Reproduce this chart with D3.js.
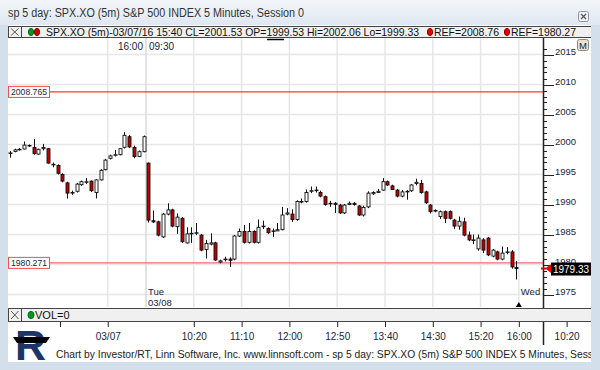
<!DOCTYPE html>
<html>
<head>
<meta charset="utf-8">
<script src="https://cdn.jsdelivr.net/npm/d3@7"></script>
<style>
  body { margin: 0; background: #fff; }
  svg text { font-family: "Liberation Sans", Arial, sans-serif; }
</style>
</head>
<body>
<div class="chart"></div>
<script>
// bar index: 0 = 03/08 09:30, negatives = 03/07 afternoon
const barIdx = d3.range(-29, 78);
const opens = [1998.5,1998.85,1999.1,1999.25,1999.8,1999.5,1998.4,1999.3,1999.3,1996.7,1996.5,1995.0,1993.6,1991.9,1992.2,1993.3,1993.7,1993.9,1992.0,1994.1,1995.8,1997.7,1998.2,1998.3,1999.53,2001.3,1999.5,1998.0,1998.8,
  1996.9,1987.3,1987.1,1984.6,1988.4,1989.1,1986.3,1987.7,1983.6,1985.1,1985.3,1984.9,1982.5,1983.4,1983.6,1980.4,1980.8,1980.9,1980.9,1984.75,1985.5,1983.7,1985.5,1983.7,1986.3,1986.0,1985.5,1985.6,1985.8,1988.4,1988.4,1987.5,1990.4,1990.5,1992.2,1992.3,1992.0,1991.3,1990.1,1990.2,1989.9,1988.6,1990.0,1990.2,1989.75,1988.25,1989.6,1991.8,1992.0,1992.4,1993.8,1993.1,1992.4,1991.4,1992.1,1992.3,1993.5,1993.5,1992.1,1989.9,1988.9,1988.0,1988.8,1988.8,1987.4,1986.4,1987.1,1984.9,1984.1,1982.6,1984.1,1984.4,1981.4,1982.1,1980.9,1982.0,1982.1,1979.5];
const highs = [1998.9,1999.3,1999.4,2000.5,2000.0,2000.9,1999.3,2000.1,1999.4,1997.0,1996.7,1995.2,1993.8,1992.3,1993.6,1994.0,1994.4,1994.0,1994.2,1995.9,1997.6,1998.3,1999.1,1999.4,2002.06,2001.6,1999.8,1999.0,2001.5,
  1997.0,1989.0,1987.3,1988.6,1990.2,1989.3,1988.5,1987.9,1986.2,1986.2,1986.9,1985.1,1984.1,1985.2,1983.8,1980.8,1981.3,1981.2,1984.9,1986.0,1986.6,1986.9,1985.7,1987.5,1987.3,1986.2,1986.0,1986.9,1989.6,1989.4,1989.2,1990.7,1991.0,1992.5,1993.0,1993.0,1992.3,1991.5,1990.6,1990.4,1990.1,1990.1,1990.5,1990.4,1989.9,1989.8,1992.2,1992.2,1992.6,1994.4,1994.0,1993.3,1992.6,1992.4,1992.4,1993.4,1994.3,1994.1,1992.3,1990.1,1989.2,1989.0,1989.0,1989.0,1987.6,1988.0,1987.8,1985.5,1985.0,1985.0,1984.4,1984.6,1982.6,1982.3,1983.0,1982.9,1982.4,1980.6];
const lows = [1997.8,1998.7,1999.0,1999.2,1999.6,1998.3,1998.3,1999.0,1996.8,1996.2,1995.0,1993.7,1991.0,1991.6,1992.0,1993.1,1993.4,1992.1,1991.0,1994.0,1995.7,1997.5,1998.0,1998.2,1999.33,1999.4,1997.7,1997.9,1998.7,
  1987.0,1986.9,1984.7,1984.4,1988.2,1986.2,1985.1,1983.6,1983.5,1983.6,1984.9,1982.2,1981.0,1983.2,1980.6,1980.2,1980.5,1979.6,1980.7,1984.6,1983.5,1983.5,1983.5,1983.5,1985.9,1985.1,1984.6,1985.6,1985.7,1988.2,1987.1,1987.3,1990.2,1990.3,1991.9,1992.0,1991.2,1989.8,1989.6,1988.6,1988.4,1988.4,1989.9,1989.8,1988.1,1988.0,1989.4,1991.6,1991.9,1992.3,1993.1,1992.4,1991.2,1991.2,1990.8,1992.1,1993.2,1991.8,1990.1,1988.5,1988.7,1987.6,1986.9,1987.5,1985.9,1985.8,1984.7,1983.9,1983.4,1982.3,1981.9,1981.4,1981.2,1980.7,1980.7,1981.7,1979.3,1977.5];
const closes = [1998.6,1999.1,1999.2,1999.9,1999.85,1998.5,1999.2,1999.5,1996.9,1996.6,1995.2,1993.9,1991.9,1992.0,1993.4,1993.8,1993.8,1992.3,1994.1,1995.7,1997.4,1998.1,1998.3,1999.3,2001.53,1999.6,1998.0,1998.8,2001.3,
  1987.4,1987.1,1984.9,1988.4,1989.1,1986.4,1987.9,1983.8,1985.1,1985.2,1985.3,1982.4,1983.5,1983.6,1980.75,1980.6,1980.9,1980.7,1984.75,1985.5,1983.7,1985.5,1983.7,1986.2,1986.4,1985.3,1985.6,1985.8,1988.25,1988.6,1987.5,1990.5,1990.5,1992.0,1992.3,1992.4,1991.4,1990.0,1990.2,1990.0,1988.6,1989.9,1990.2,1990.0,1988.25,1989.5,1991.9,1992.0,1992.2,1993.8,1993.25,1992.5,1991.4,1992.1,1992.2,1993.25,1993.7,1992.0,1990.3,1988.8,1989.0,1988.8,1987.7,1987.7,1986.4,1987.2,1984.9,1984.1,1984.0,1984.4,1982.4,1981.6,1982.4,1980.9,1981.9,1982.1,1979.6,1979.33];

// time axis ticks (bar index -> label)
const timeTicks = [-18, -8, 10, 20, 30, 40, 50, 60, 70, 78, 88];
const timeLabels = ['', '03/07', '10:20', '11:10', '12:00', '12:50', '13:40', '14:30', '15:20', '16:00', '10:20'];
const gridTicks = [-8, 0, 10, 20, 30, 40, 50, 60, 70, 78];

const refValues = [2008.765, 1980.271];
const refLabels = ['2008.765', '1980.271'];
const priceTicks = d3.range(1975, 2016, 5);
const lastPrice = 1979.33;

const width = 600, height = 370;
const plotL = 8, plotR = 543, plotT = 38, plotB = 307;
const navy = '#1a2440';

const xScale = d3.scaleLinear().domain([0, 78]).range([146, 146 + 78 * 4.78]);
const yScale = d3.scaleLinear().domain([1975, 2015]).range([294.5, 54.5]);

const svg = d3.select('.chart').append('svg')
    .attr('width', width).attr('height', height)
    .style('display', 'block');

// window frame
svg.append('rect').attr('width', width).attr('height', height).attr('fill', '#d4dfec');
const defs = svg.append('defs');
const grad = defs.append('linearGradient').attr('id', 'tbar')
    .attr('x1', 0).attr('y1', 0).attr('x2', 0).attr('y2', 1);
grad.append('stop').attr('offset', '0%').attr('stop-color', '#f3f6fa');
grad.append('stop').attr('offset', '100%').attr('stop-color', '#dfe7f1');
defs.append('clipPath').attr('id', 'foot').append('rect').attr('x', 0).attr('y', 340).attr('width', 591).attr('height', 25);

svg.append('rect').attr('x', 0).attr('y', 0).attr('width', width).attr('height', 25).attr('fill', 'url(#tbar)');
svg.append('text').attr('x', 8).attr('y', 17).attr('font-size', 12).attr('fill', '#333')
    .attr('textLength', 296).attr('lengthAdjust', 'spacingAndGlyphs')
    .text('sp 5 day: SPX.XO (5m) S&P 500 INDEX 5 Minutes, Session 0');
// close button
svg.append('rect').attr('x', 578.5).attr('y', 11.5).attr('width', 10).attr('height', 10).attr('rx', 2)
    .attr('fill', '#eef1f5').attr('stroke', '#8a96a6');
svg.append('path').attr('d', 'M581,14 L586,19 M586,14 L581,19').attr('stroke', '#555').attr('stroke-width', 1.2);

// white chart body
svg.append('rect').attr('x', plotL).attr('y', 25).attr('width', 584).attr('height', 337).attr('fill', '#fff');

// legend bar
const leg = svg.append('g');
leg.append('rect').attr('x', 8.5).attr('y', 26.5).attr('width', 583).attr('height', 11)
    .attr('fill', '#f0f0f0').attr('stroke', '#444');
leg.append('line').attr('x1', 21.5).attr('x2', 21.5).attr('y1', 26.5).attr('y2', 37.5).attr('stroke', '#444');
leg.append('path').attr('d', 'M11,28.5 L18.5,35.5 M18.5,28.5 L11,35.5').attr('stroke', '#555');
leg.append('ellipse').attr('cx', 31).attr('cy', 32).attr('rx', 2.6).attr('ry', 3.6).attr('fill', '#0a9a0a').attr('stroke', '#063');
leg.append('ellipse').attr('cx', 37).attr('cy', 32).attr('rx', 2.6).attr('ry', 3.6).attr('fill', '#d00').attr('stroke', '#700');
leg.append('text').attr('x', 46).attr('y', 36).attr('font-size', 11).attr('fill', '#111')
    .attr('textLength', 373).attr('lengthAdjust', 'spacingAndGlyphs')
    .text('SPX.XO (5m)-03/07/16 15:40 CL=2001.53 OP=1999.53 Hi=2002.06 Lo=1999.33');
[[430, 'REF=2008.76'], [507, 'REF=1980.27']].forEach(([x, t]) => {
    leg.append('ellipse').attr('cx', x).attr('cy', 32).attr('rx', 2.6).attr('ry', 3.6).attr('fill', '#e00').attr('stroke', '#800');
    leg.append('text').attr('x', x + 4).attr('y', 36).attr('font-size', 11).attr('fill', '#111')
        .attr('textLength', 65).attr('lengthAdjust', 'spacingAndGlyphs').text(t);
});
svg.append('line').attr('x1', 267).attr('x2', 284).attr('y1', 39.5).attr('y2', 39.5).attr('stroke', '#000').attr('stroke-width', 1.5);

// grid
const grid = svg.append('g');
grid.selectAll('line.h').data(priceTicks).join('line')
    .attr('x1', plotL).attr('x2', plotR)
    .attr('y1', (d) => yScale(d)).attr('y2', (d) => yScale(d))
    .attr('stroke', '#e6e6e6').attr('stroke-width', 1.5);
grid.selectAll('line.v').data(gridTicks).join('line')
    .attr('x1', (d) => xScale(d)).attr('x2', (d) => xScale(d))
    .attr('y1', plotT).attr('y2', plotB)
    .attr('stroke', (d) => (d === 0 ? '#d8d8d8' : '#e6e6e6')).attr('stroke-width', 1.5);

// session labels
svg.append('text').attr('x', xScale(0) - 3).attr('y', 50).attr('text-anchor', 'end')
    .attr('font-size', 10).attr('fill', navy).text('16:00');
svg.append('text').attr('x', xScale(0) + 3).attr('y', 50)
    .attr('font-size', 10).attr('fill', navy).text('09:30');
svg.append('text').attr('x', xScale(0) + 2).attr('y', 294.5).attr('font-size', 9.5).attr('fill', navy).text('Tue');
svg.append('text').attr('x', xScale(0) + 2).attr('y', 305.5).attr('font-size', 9.5).attr('fill', navy).text('03/08');
svg.append('text').attr('x', xScale(78) + 2).attr('y', 294.5).attr('font-size', 9.5).attr('fill', navy).text('Wed');
svg.append('path').attr('d', `M${xScale(78) - 3},307 L${xScale(78)},302 L${xScale(78) + 3},307 Z`).attr('fill', '#000');

// reference lines
refValues.forEach((v, k) => {
    svg.append('line').attr('x1', 49).attr('x2', plotR)
        .attr('y1', yScale(v)).attr('y2', yScale(v))
        .attr('stroke', k === 0 ? '#f00' : '#f26a6a').attr('stroke-width', k === 0 ? 1 : 1.4);
    svg.append('rect').attr('x', 8.5).attr('y', yScale(v) - 5.5).attr('width', 41).attr('height', 11)
        .attr('fill', '#fff').attr('stroke', '#f05050');
    svg.append('text').attr('x', 11).attr('y', yScale(v) + 3.5).attr('font-size', 9.5).attr('fill', navy)
        .attr('textLength', 36).attr('lengthAdjust', 'spacingAndGlyphs')
        .text(refLabels[k]);
});

// candles
const bars = barIdx.map((i, k) => ({ i, o: opens[k], h: highs[k], l: lows[k], c: closes[k] }));
const cx = (d) => xScale(d.i + 0.5);
const candles = svg.append('g').selectAll('g').data(bars).join('g');
candles.append('line')
    .attr('x1', (d) => Math.round(cx(d)) + 0.5).attr('x2', (d) => Math.round(cx(d)) + 0.5)
    .attr('y1', (d) => yScale(d.h)).attr('y2', (d) => yScale(d.l))
    .attr('stroke', '#111');
candles.append('rect')
    .attr('x', (d) => Math.round(cx(d)) - 1)
    .attr('y', (d) => yScale(Math.max(d.o, d.c)))
    .attr('width', 3)
    .attr('height', (d) => Math.max(0.6, Math.abs(yScale(d.o) - yScale(d.c))))
    .attr('fill', (d) => (d.c < d.o ? '#c00000' : '#fff'))
    .attr('stroke', '#111').attr('stroke-width', 0.9);

// right price axis
const yAxis = svg.append('g').attr('transform', `translate(${plotR},0)`);
yAxis.append('line').attr('x1', 0.5).attr('x2', 0.5).attr('y1', 38).attr('y2', 345).attr('stroke', '#222').attr('stroke-width', 1.5);
yAxis.selectAll('line.minor').data(d3.range(1975, 2017)).join('line')
    .attr('x1', 0).attr('x2', (d) => (d % 5 === 0 ? 11 : 4))
    .attr('y1', (d) => Math.round(yScale(d)) + 0.5).attr('y2', (d) => Math.round(yScale(d)) + 0.5)
    .attr('stroke', '#222');
yAxis.selectAll('text').data(priceTicks).join('text')
    .attr('x', 12).attr('y', (d) => yScale(d) + 0.5)
    .attr('font-size', 9.5).attr('fill', navy).text((d) => d);

// last price tag
const ly = yScale(lastPrice);
svg.append('path').attr('d', `M${plotR - 2},${ly} L${plotR + 3},${ly}`).attr('stroke', '#e00').attr('stroke-width', 2);
svg.append('path').attr('d', `M${plotR + 2},${ly} L${plotR + 9},${ly - 5} L${plotR + 9},${ly + 5} Z`).attr('fill', '#e00');
svg.append('rect').attr('x', plotR + 8).attr('y', ly - 6).attr('width', 40).attr('height', 13).attr('fill', '#000');
svg.append('text').attr('x', plotR + 10).attr('y', ly + 4).attr('font-size', 10.5).attr('fill', '#fff')
    .attr('textLength', 36).attr('lengthAdjust', 'spacingAndGlyphs').text(lastPrice.toFixed(2));

// M button
svg.append('rect').attr('x', 577.5).attr('y', 39.5).attr('width', 11).attr('height', 11).attr('rx', 2)
    .attr('fill', '#e9e2cf').attr('stroke', '#8a8a8a');
svg.append('text').attr('x', 583).attr('y', 48.5).attr('text-anchor', 'middle').attr('font-size', 9.5).attr('fill', navy).text('M');

// volume bar
const vol = svg.append('g');
vol.append('rect').attr('x', 8.5).attr('y', 308.5).attr('width', 583).attr('height', 13)
    .attr('fill', '#f0f0f0').attr('stroke', '#444');
vol.append('line').attr('x1', 21.5).attr('x2', 21.5).attr('y1', 308.5).attr('y2', 321.5).attr('stroke', '#444');
vol.append('path').attr('d', 'M11,311 L18.5,319 M18.5,311 L11,319').attr('stroke', '#555');
vol.append('ellipse').attr('cx', 31).attr('cy', 315).attr('rx', 3).attr('ry', 3.6).attr('fill', '#0a9a0a').attr('stroke', '#063');
vol.append('text').attr('x', 35).attr('y', 319).attr('font-size', 11).attr('fill', '#111').text('VOL=0');

// time axis
const xAxis = d3.axisBottom(xScale).tickValues(timeTicks)
    .tickFormat((d, k) => timeLabels[k]).tickSize(5).tickPadding(6);
const xg = svg.append('g').attr('transform', 'translate(0,322)').call(xAxis);
xg.select('.domain').remove();
xg.selectAll('line').attr('stroke', '#222');
xg.selectAll('text').attr('font-size', 10).attr('fill', navy)
    .attr('font-family', '"Liberation Sans", Arial, sans-serif');

// logo
const logo = svg.append('g');
logo.append('text').attr('x', 15).attr('y', 360).attr('font-size', 43).attr('font-weight', 'bold')
    .attr('font-family', '"Liberation Serif", serif').attr('fill', '#1d3466').text('R');
logo.append('path').attr('d', 'M13,337 L50,337 L46,343 L17,343 Z').attr('fill', '#000');

// footer (clipped at the window edge as in the original)
svg.append('text').attr('x', 56).attr('y', 358).attr('font-size', 10.3).attr('fill', '#222')
    .attr('clip-path', 'url(#foot)')
    .text('Chart by Investor/RT, Linn Software, Inc. www.linnsoft.com - sp 5 day: SPX.XO (5m) S&P 500 INDEX 5 Minutes, Session 0');
svg.append('rect').attr('x', 591).attr('y', 25).attr('width', 9).attr('height', 345).attr('fill', '#d4dfec');
svg.append('rect').attr('x', 0).attr('y', 362).attr('width', 600).attr('height', 8).attr('fill', '#d4dfec');
svg.append('rect').attr('x', 0).attr('y', 25).attr('width', 8).attr('height', 345).attr('fill', '#d4dfec');
</script>
</body>
</html>
